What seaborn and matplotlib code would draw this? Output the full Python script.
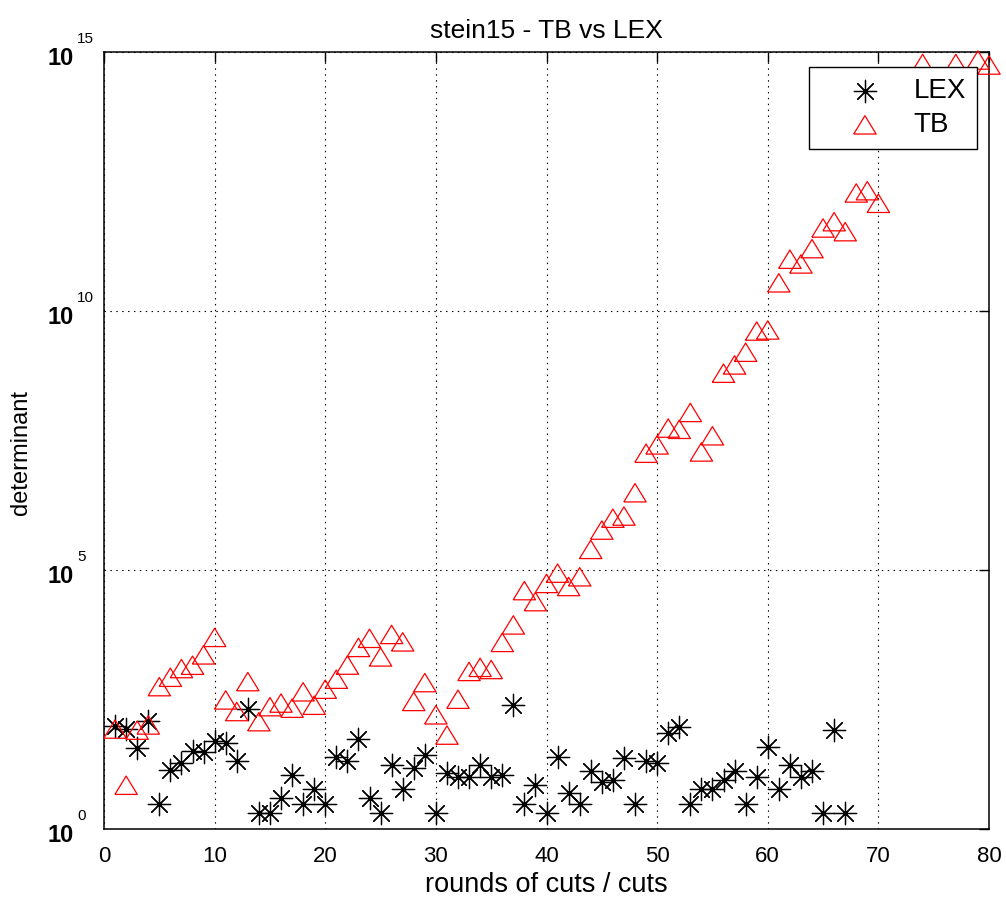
import numpy as np
import pandas as pd
import matplotlib
matplotlib.use("Agg")
import matplotlib.pyplot as plt
from matplotlib.transforms import ScaledTranslation
import seaborn as sns

# Determinant after each round of cuts, LEX vs TB ordering (stein15)
lex_rounds = list(range(1, 68))
lex_det = [98, 85, 37, 123, 3, 14, 19, 32, 31, 50,
           46, 21, 204, 2, 2, 4, 11, 3, 6, 3,
           25, 21, 55, 4, 2, 17, 6, 15, 27, 2,
           12, 10, 10, 17, 10, 11, 247, 3, 7, 2,
           25, 5, 3, 13, 8, 9, 23, 3, 21, 19,
           72, 94, 3, 6, 6, 9, 13, 3, 10, 39,
           6, 17, 10, 13, 2, 81, 2]

tb_rounds = list(range(1, 71)) + [74, 77, 79, 80]
tb_det = [85, 7, 81, 102, 560, 850, 1250, 1450, 2300, 5000,
          310, 185, 700, 118, 230, 270, 215, 445, 245, 500,
          780, 1460, 3200, 4800, 2100, 5700, 4100, 290, 670, 160,
          65, 320, 1100, 1320, 1200, 4000, 8700, 4.0e4, 2.45e4, 5.5e4,
          8.7e4, 4.8e4, 7.4e4, 2.5e5, 5.9e5, 1.0e6, 1.1e6, 3.1e6, 1.8e7, 2.6e7,
          5.5e7, 5.2e7, 1.1e8, 1.9e7, 3.9e7, 6.3e8, 9.1e8, 1.6e9, 4.1e9, 4.3e9,
          3.5e10, 1.0e11, 8.1e10, 1.6e11, 4.0e11, 5.3e11, 3.4e11, 1.9e12, 2.1e12, 1.2e12,
          6.0e14, 6.0e14, 7.0e14, 5.6e14]

x_ticks = [0, 10, 20, 30, 40, 50, 60, 70, 80]
y_ticks = [1, 1e5, 1e10, 1e15]
y_exponents = ["0", "5", "10", "15"]

title = "stein15 - TB vs LEX"
x_label = "rounds of cuts / cuts"
y_label = "determinant"

lex = pd.DataFrame({"round": lex_rounds, "det": lex_det})
tb = pd.DataFrame({"round": tb_rounds, "det": tb_det})

sns.set_style("white")
plt.rcParams["font.family"] = ["Liberation Sans", "DejaVu Sans"]
plt.rcParams.update({"text.color": "black", "axes.labelcolor": "black",
                     "xtick.color": "black", "ytick.color": "black"})

fig = plt.figure(figsize=(10.06, 9.14), dpi=100)
ax = fig.add_axes([104 / 1006, 85 / 914, 885 / 1006, 777 / 914])

# open triangle, a little wider than tall
tri = [(-1.0, -0.82), (1.0, -0.82), (0.0, 0.82), (-1.0, -0.82)]

sns.scatterplot(data=lex, x="round", y="det", ax=ax, marker=(8, 2, 0), s=260,
                color="black", linewidth=0.9, label="LEX", clip_on=False, zorder=3)
sns.scatterplot(data=lex, x="round", y="det", ax=ax, marker="o", s=10,
                color="black", linewidth=0, legend=False, clip_on=False, zorder=3)
sns.scatterplot(data=tb, x="round", y="det", ax=ax, marker=tri, s=260,
                facecolor="none", edgecolor="red", linewidth=0.9, label="TB",
                clip_on=False, zorder=3)

ax.set_yscale("log")
ax.set_xlim(0, 80)
ax.set_ylim(1, 1e15)
ax.set_xticks(x_ticks)
ax.set_xticklabels([str(t) for t in x_ticks])
ax.set_yticks(y_ticks)
ax.yaxis.set_minor_locator(matplotlib.ticker.NullLocator())
ax.set_yticklabels(["10"] * len(y_ticks), fontsize=17, fontweight="bold")

ax.tick_params(axis="both", which="major", direction="in", length=7, width=1,
               top=True, right=True, colors="black")
ax.tick_params(axis="x", labelsize=16, pad=12)
ax.tick_params(axis="y", pad=22)

# shift the "10" labels slightly below their ticks
for lab in ax.get_yticklabels():
    lab.set_transform(lab.get_transform() + ScaledTranslation(0, -4 / 100, fig.dpi_scale_trans))

# superscript exponents next to each "10"
for t, e in zip(y_ticks, y_exponents):
    ax.annotate(e, xy=(0, t), xycoords=("axes fraction", "data"),
                xytext=(-19.5, 6.8), textcoords="offset points",
                ha="left", va="baseline", fontsize=11, annotation_clip=False)

ax.grid(True, which="major", color="black", linestyle=(0, (1.3, 4)), linewidth=0.8)
for sp in ax.spines.values():
    sp.set_visible(True)
    sp.set_color("black")
    sp.set_linewidth(1.1)

ax.set_title(title, fontsize=19, pad=10)
ax.set_xlabel(x_label, fontsize=19.5, labelpad=4)
ax.set_ylabel(y_label, fontsize=17)
ax.yaxis.set_label_coords(-0.0814, 0.485)

leg = ax.legend(loc="upper right", bbox_to_anchor=(0.9868, 0.9811), borderaxespad=0,
                fontsize=20, frameon=True, fancybox=False, framealpha=1,
                edgecolor="black", borderpad=0.4, handlelength=3.2,
                handletextpad=0.16, labelspacing=0.3, markerscale=1.0)
leg.get_frame().set_linewidth(1.0)

fig.savefig("out.png", dpi=100)
